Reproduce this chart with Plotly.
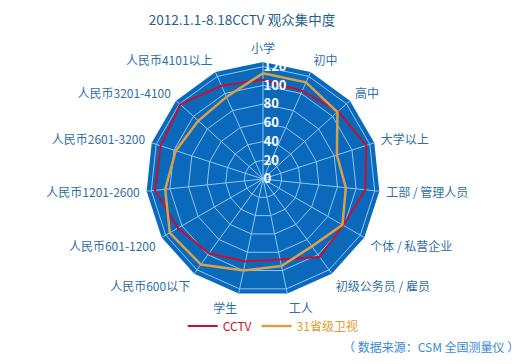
import plotly.graph_objects as go

categories = ["小学", "初中", "高中", "大学以上", "工部 / 管理人员", "个体 / 私营企业",
              "初级公务员 / 雇员", "工人", "学生", "人民币600以下", "人民币601-1200",
              "人民币1201-2600", "人民币2601-3200", "人民币3201-4100", "人民币4101以上"]
cctv = [106, 103, 108, 116, 110, 99, 103, 88, 90, 98, 105, 116, 115, 119, 109]
prov31 = [113, 113, 107, 83, 89, 98, 89, 95, 100, 113, 115, 105, 98, 93, 96]
radial_ticks = [0, 20, 40, 60, 80, 100, 120]
radial_tick_labels = ["0", "20", "40", "60", "80", "100", "120"]

FONT = "Noto Sans CJK SC"
FIG_SP = "\u2007"
# pad labels so that the centred text sits to the left of the axis spoke
padded_labels = [t + FIG_SP * (len(t) + 4) for t in radial_tick_labels]

fig = go.Figure()
fig.add_trace(go.Scatterpolar(
    r=cctv + cctv[:1], theta=categories + categories[:1], mode="lines",
    name="<span style='color:#c8102e'>CCTV</span>",
    line=dict(color="#c8102e", width=2)))
fig.add_trace(go.Scatterpolar(
    r=prov31 + prov31[:1], theta=categories + categories[:1], mode="lines",
    name="<span style='color:#e39a2a'>31省级卫视</span>",
    line=dict(color="#d9a04a", width=2.5)))

cx, cy, R = 263, 179, 117
W, H = 528, 364
fig.update_layout(
    width=W, height=H, margin=dict(l=0, r=0, t=0, b=0),
    paper_bgcolor="white", plot_bgcolor="white",
    font=dict(family=FONT, size=12, color="#2f6fa6"),
    title=dict(text="2012.1.1-8.18CCTV 观众集中度", x=242 / W, xanchor="center",
               y=1 - 20 / H, yanchor="middle",
               font=dict(family=FONT, size=13.5, color="#1f5f8f")),
    polar=dict(
        domain=dict(x=[(cx - R) / W, (cx + R) / W], y=[1 - (cy + R) / H, 1 - (cy - R) / H]),
        bgcolor="#0a69bb",
        gridshape="linear",
        angularaxis=dict(direction="clockwise", rotation=90, showline=False,
                         gridcolor="#8cc6f2", gridwidth=1,
                         ticks="outside", ticklen=4, tickcolor="rgba(0,0,0,0)",
                         tickfont=dict(family=FONT, size=12, color="#2f6fa6")),
        radialaxis=dict(range=[0, 125], tickvals=radial_ticks, ticktext=padded_labels,
                        angle=90, showline=False, gridcolor="#8cc6f2", gridwidth=1, ticks="",
                        tickfont=dict(family=FONT, size=13, color="white", weight="bold"),
                        tickangle=90, side="clockwise"),
    ),
    legend=dict(orientation="h", x=0.346, xanchor="left", y=1 - 326 / H, yanchor="middle",
                font=dict(family=FONT, size=12), itemwidth=30, bgcolor="rgba(0,0,0,0)"),
    annotations=[dict(text="（ 数据来源：CSM 全国测量仪 ）", x=521 / W, xanchor="right",
                      y=1 - 346 / H, yanchor="middle", xref="paper", yref="paper",
                      showarrow=False, font=dict(family=FONT, size=12, color="#3a8ad0"))],
)
fig.write_html("out.html")
